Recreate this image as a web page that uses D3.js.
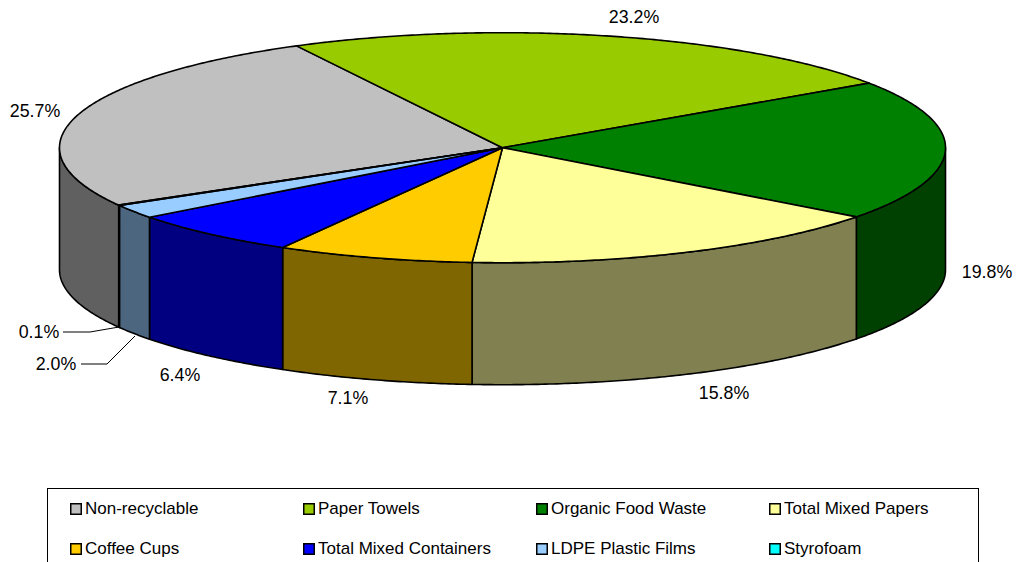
<!DOCTYPE html>
<html>
<head>
<meta charset="utf-8">
<script src="https://cdn.jsdelivr.net/npm/d3@7/dist/d3.min.js"></script>
<style>
html,body{margin:0;padding:0;background:#fff;overflow:hidden}
text{font-family:"Liberation Sans",Arial,sans-serif;fill:#000}
</style>
</head>
<body>
<svg id="chart" width="1016" height="562"></svg>
<script>
const categories = ["Non-recyclable","Paper Towels","Organic Food Waste","Total Mixed Papers","Coffee Cups","Total Mixed Containers","LDPE Plastic Films","Styrofoam"];
const values = [25.63,23.2,19.77,15.82,7.17,6.41,1.95,0.05];
const valueLabels = ["25.7%","23.2%","19.8%","15.8%","7.1%","6.4%","2.0%","0.1%"];
const topColors = ["#c0c0c0","#99cc00","#008000","#ffff99","#ffcc00","#0000ff","#99ccff","#00ffff"];
const sideColors = ["#606060","#4d6600","#004000","#808050","#806600","#000080","#4d6680","#008080"];

// layout (not data)
const cx = 502.5, cy = 147.7, rx = 443, ry = 115, depth = 122;
const startDeg = -119.97;
const labelAt = [[35,111],[634,17],[987,272],[724,393],[348,398],[180,375],[56,364],[39,332]];
const leaders = [[[81,364],[107,364],[135,336]],[[63,332],[90,332],[119,327]]];

const svg = d3.select("#chart");
const x = d3.scaleLinear().domain([-1,1]).range([cx-rx,cx+rx]);
const y = d3.scaleLinear().domain([-1,1]).range([cy+ry,cy-ry]);
const rad = d => d*Math.PI/180;
const rim = (deg,dy=0) => [x(Math.sin(rad(deg))), y(Math.cos(rad(deg)))+dy];
const sample = (a,b) => { const n=Math.max(2,Math.ceil((b-a)/0.5)); return d3.range(n+1).map(i=>a+(b-a)*i/n); };
const line = d3.line();

const pie = d3.pie().sort(null).startAngle(rad(startDeg)).endAngle(rad(startDeg+360));
const arcs = pie(values).map((d,i)=>({i,a:d.startAngle*180/Math.PI,b:d.endAngle*180/Math.PI}));

// side walls: only what faces the viewer (90deg..270deg, modulo a turn)
const walls = [];
arcs.forEach(d=>{
  [0,360].forEach(off=>{
    const a=Math.max(d.a+off,90), b=Math.min(d.b+off,270);
    if(b>a) walls.push({i:d.i,a,b});
  });
});
svg.append("g").selectAll("path").data(walls).join("path")
  .attr("d",d=>{
    const pts = sample(d.a,d.b).map(t=>rim(t));
    const low = sample(d.a,d.b).reverse().map(t=>rim(t,depth));
    return line(pts.concat(low))+"Z";
  })
  .attr("fill",d=>sideColors[d.i])
  .attr("stroke","#000").attr("stroke-width",1.6).attr("stroke-linejoin","round");

// top face
svg.append("g").selectAll("path").data(arcs).join("path")
  .attr("d",d=>line([[cx,cy]].concat(sample(d.a,d.b).map(t=>rim(t))))+"Z")
  .attr("fill",d=>topColors[d.i])
  .attr("stroke","#000").attr("stroke-width",1.6).attr("stroke-linejoin","round");

// leader lines
svg.append("g").selectAll("path").data(leaders).join("path")
  .attr("d",d=>line(d)).attr("fill","none").attr("stroke","#000").attr("stroke-width",1);

// value labels
svg.append("g").selectAll("text").data(valueLabels).join("text")
  .attr("x",(d,i)=>labelAt[i][0]).attr("y",(d,i)=>labelAt[i][1])
  .attr("dy","0.35em").attr("text-anchor","middle").attr("font-size",17.8)
  .text(d=>d);

// legend
svg.append("rect").attr("x",47.5).attr("y",488.5).attr("width",931).attr("height",90)
  .attr("fill","#fff").attr("stroke","#000").attr("stroke-width",1);
const colX = d3.scaleLinear().domain([0,3]).range([70,769]);
const rowY = d3.scaleLinear().domain([0,1]).range([503,543]);
const item = svg.append("g").selectAll("g").data(categories).join("g")
  .attr("transform",(d,i)=>`translate(${colX(i%4)},${rowY(Math.floor(i/4))})`);
item.append("rect").attr("x",0.75).attr("y",0.75).attr("width",10.5).attr("height",10.5)
  .attr("fill",(d,i)=>topColors[i]).attr("stroke","#000").attr("stroke-width",1.5);
item.append("text").attr("x",15).attr("y",11).attr("font-size",17).text(d=>d);
</script>
</body>
</html>
